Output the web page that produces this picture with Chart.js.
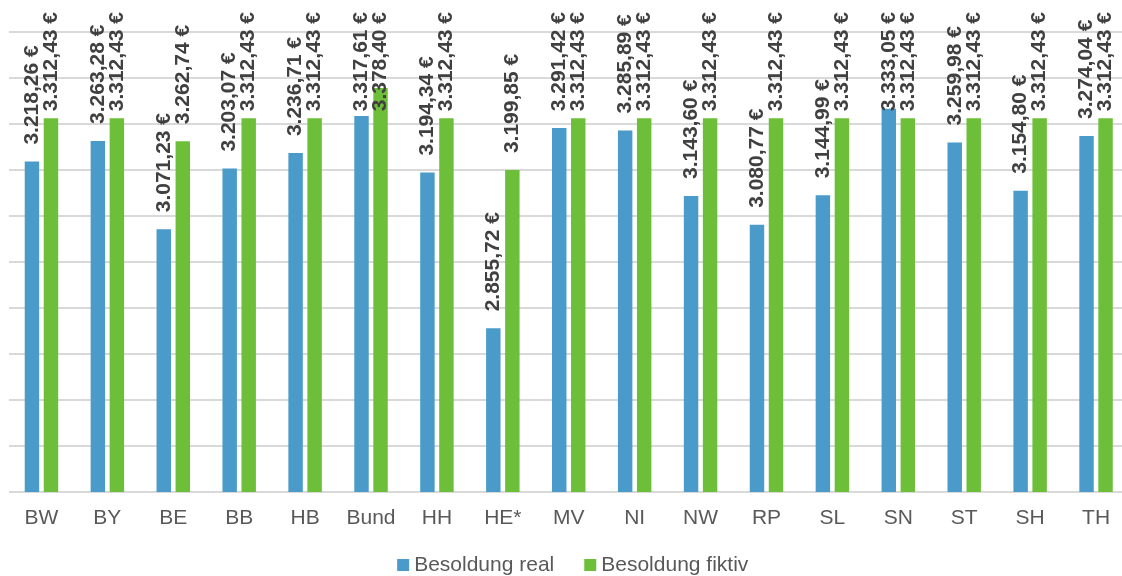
<!DOCTYPE html>
<html>
<head>
<meta charset="utf-8">
<script src="https://cdn.jsdelivr.net/npm/chart.js@4/dist/chart.umd.min.js"></script>
<style>
  html, body { margin: 0; padding: 0; background: #fff; overflow: hidden; }
  #wrap { position: absolute; left: 0; top: 0; width: 1129px; height: 576px; }
</style>
</head>
<body>
<div id="wrap"><canvas id="chart"></canvas></div>
<script>
// categories and values
const laender = ["BW", "BY", "BE", "BB", "HB", "Bund", "HH", "HE*", "MV", "NI", "NW", "RP", "SL", "SN", "ST", "SH", "TH"];
const besoldungReal = [3218.26, 3263.28, 3071.23, 3203.07, 3236.71, 3317.61, 3194.34, 2855.72, 3291.42, 3285.89, 3143.60, 3080.77, 3144.99, 3333.05, 3259.98, 3154.80, 3274.04];
const besoldungFiktiv = [3312.43, 3312.43, 3262.74, 3312.43, 3312.43, 3378.40, 3312.43, 3199.85, 3312.43, 3312.43, 3312.43, 3312.43, 3312.43, 3312.43, 3312.43, 3312.43, 3312.43];
const yMin = 2500;
const yMax = 3500;
const yStep = 100;

const FONT = "'Liberation Sans', Arial, sans-serif";

function euro(v) {
    const [int, dec] = v.toFixed(2).split(".");
    return int.replace(/\B(?=(\d{3})+(?!\d))/g, ".") + "," + dec + " €";
}

// vertical value labels above each bar, pushed down when they would leave the top
const valueLabels = {
    id: "valueLabels",
    afterDatasetsDraw(chart) {
        const ctx = chart.ctx;
        ctx.save();
        ctx.font = "bold 21px " + FONT;
        ctx.fillStyle = "#404040";
        ctx.textAlign = "left";
        ctx.textBaseline = "middle";
        chart.data.datasets.forEach((ds, i) => {
            chart.getDatasetMeta(i).data.forEach((bar, j) => {
                const v = ds.data[j];
                if (v == null) return;
                const txt = euro(v);
                const w = ctx.measureText(txt).width;
                const bottom = Math.max(bar.y - 17, 12 + w);
                ctx.save();
                ctx.translate(bar.x, bottom);
                ctx.rotate(-Math.PI / 2);
                ctx.fillText(txt, 0, 0);
                ctx.restore();
            });
        });
        ctx.restore();
    }
};

// legend drawn by hand so the spacing follows the original
const bottomLegend = {
    id: "bottomLegend",
    afterDraw(chart) {
        const ctx = chart.ctx;
        const box = 12, gap = 5, itemGap = 30;
        ctx.save();
        ctx.font = "21px " + FONT;
        ctx.textBaseline = "middle";
        ctx.textAlign = "left";
        const items = chart.data.datasets.map(ds => ({
            text: ds.label, color: ds.backgroundColor, w: ctx.measureText(ds.label).width
        }));
        const total = items.reduce((s, it) => s + box + gap + it.w, 0) + itemGap * (items.length - 1);
        const area = chart.chartArea;
        let x = (area.left + area.right) / 2 + 4 - total / 2;
        const y = chart.height - 11;
        items.forEach(it => {
            ctx.fillStyle = it.color;
            ctx.fillRect(x, y - box / 2, box, box);
            x += box + gap;
            ctx.fillStyle = "#595959";
            ctx.fillText(it.text, x, y);
            x += it.w + itemGap;
        });
        ctx.restore();
    }
};

new Chart(document.getElementById("chart").getContext("2d"), {
    type: "bar",
    data: {
        labels: laender,
        datasets: [
            {
                label: "Besoldung real",
                data: besoldungReal,
                backgroundColor: "#4A9BCA",
                categoryPercentage: 0.577,
                barPercentage: 0.76
            },
            {
                label: "Besoldung fiktiv",
                data: besoldungFiktiv,
                backgroundColor: "#6DBF3A",
                categoryPercentage: 0.577,
                barPercentage: 0.76
            }
        ]
    },
    options: {
        responsive: true,
        maintainAspectRatio: false,
        animation: false,
        layout: { padding: { left: 8.5, right: 0, top: 32, bottom: 44 } },
        plugins: {
            tooltip: { enabled: false },
            legend: { display: false }
        },
        scales: {
            x: {
                grid: { display: false, drawTicks: false },
                border: { display: false },
                ticks: { color: "#595959", padding: 14, font: { family: FONT, size: 21 } },
                afterFit: scale => { scale.height = 40; }
            },
            y: {
                min: yMin,
                max: yMax,
                ticks: { display: false, stepSize: yStep },
                grid: { color: "#D9D9D9", lineWidth: 2, drawTicks: false },
                border: { display: false }
            }
        }
    },
    plugins: [valueLabels, bottomLegend]
});
</script>
</body>
</html>
